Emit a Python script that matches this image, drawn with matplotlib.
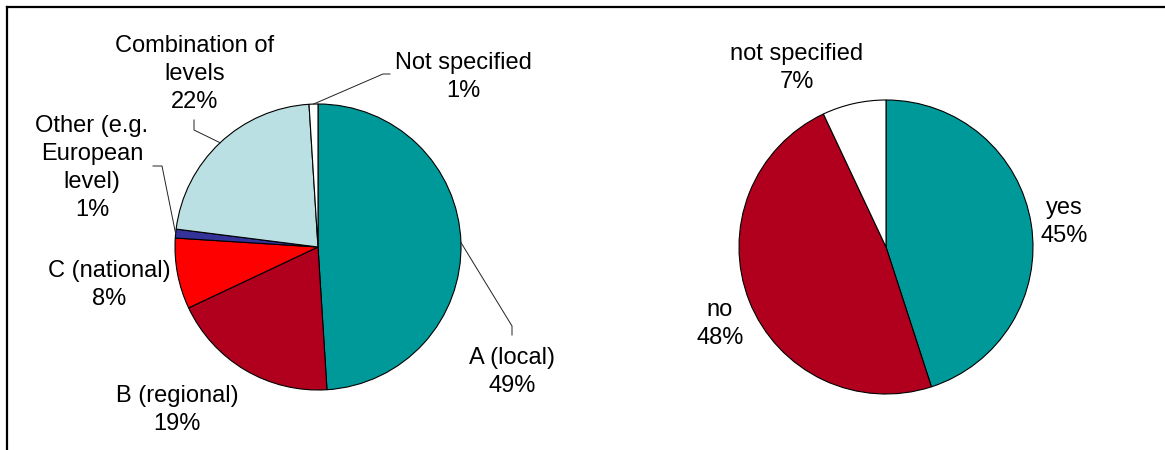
import numpy as np
import matplotlib.pyplot as plt

plt.rcParams['font.family'] = ['Liberation Sans', 'DejaVu Sans']

# Level of the measures
level_labels = ['A (local)', 'B (regional)', 'C (national)',
                'Other (e.g.\nEuropean\nlevel)', 'Combination of\nlevels', 'Not specified']
level_values = [49, 19, 8, 1, 22, 1]
level_colors = ['#009999', '#B0001E', '#FF0000', '#333399', '#BAE0E3', '#FFFFFF']

# Yes / no question
answer_labels = ['yes', 'no', 'not specified']
answer_values = [45, 48, 7]
answer_colors = ['#009999', '#B0001E', '#FFFFFF']

W, H = 1165, 450
fig = plt.figure(figsize=(W / 100, H / 100), dpi=100)
ax = fig.add_axes([0, 0, 1, 1])


def px(x, y):
    # positions given from the top-left corner
    return x, H - y


def draw_pie(values, colors, center, radius):
    wedges, _ = ax.pie(values, colors=colors, startangle=90, counterclock=False,
                       center=px(*center), radius=radius,
                       wedgeprops=dict(edgecolor='black', linewidth=0.8))
    return wedges


def edge_point(wedge):
    mid = np.deg2rad((wedge.theta1 + wedge.theta2) / 2)
    cx, cy = wedge.center
    return cx + wedge.r * np.cos(mid), cy + wedge.r * np.sin(mid)


def put_labels(wedges, labels, values, text_pos, leaders):
    for i, (w, lab, val) in enumerate(zip(wedges, labels, values)):
        x, y = text_pos[i]
        ax.text(*px(x, y + 2), f'{lab}\n{val}%', ha='center', va='center',
                multialignment='center', fontsize=17, linespacing=1.35)
        if leaders[i] is not None:
            ex, ey = edge_point(w)
            xs = [ex] + [p[0] for p in leaders[i]]
            ys = [ey] + [H - p[1] for p in leaders[i]]
            ax.plot(xs, ys, color='#222222', lw=0.7)


left = draw_pie(level_values, level_colors, (318, 247), 143)
put_labels(left, level_labels, level_values,
           [(512, 370), (177, 408), (109, 283), (92, 166), (195, 72), (463, 75)],
           [[(512, 326), (512, 335)], None, None,
            [(162, 166), (153, 166)], [(194, 130), (194, 120)],
            [(383, 74), (390, 74)]])

right = draw_pie(answer_values, answer_colors, (886, 247), 147)
put_labels(right, answer_labels, answer_values,
           [(1064, 220), (720, 322), (797, 66)],
           [None, None, None])

# outer frame (left and top edges)
ax.plot([7, 7], [0, H - 7], color='black', lw=1.6, solid_capstyle='projecting')
ax.plot([7, W], [H - 7, H - 7], color='black', lw=1.6, solid_capstyle='projecting')

ax.set_xlim(0, W)
ax.set_ylim(0, H)
ax.set_aspect('auto')
ax.axis('off')

fig.savefig('out.png', dpi=100)
